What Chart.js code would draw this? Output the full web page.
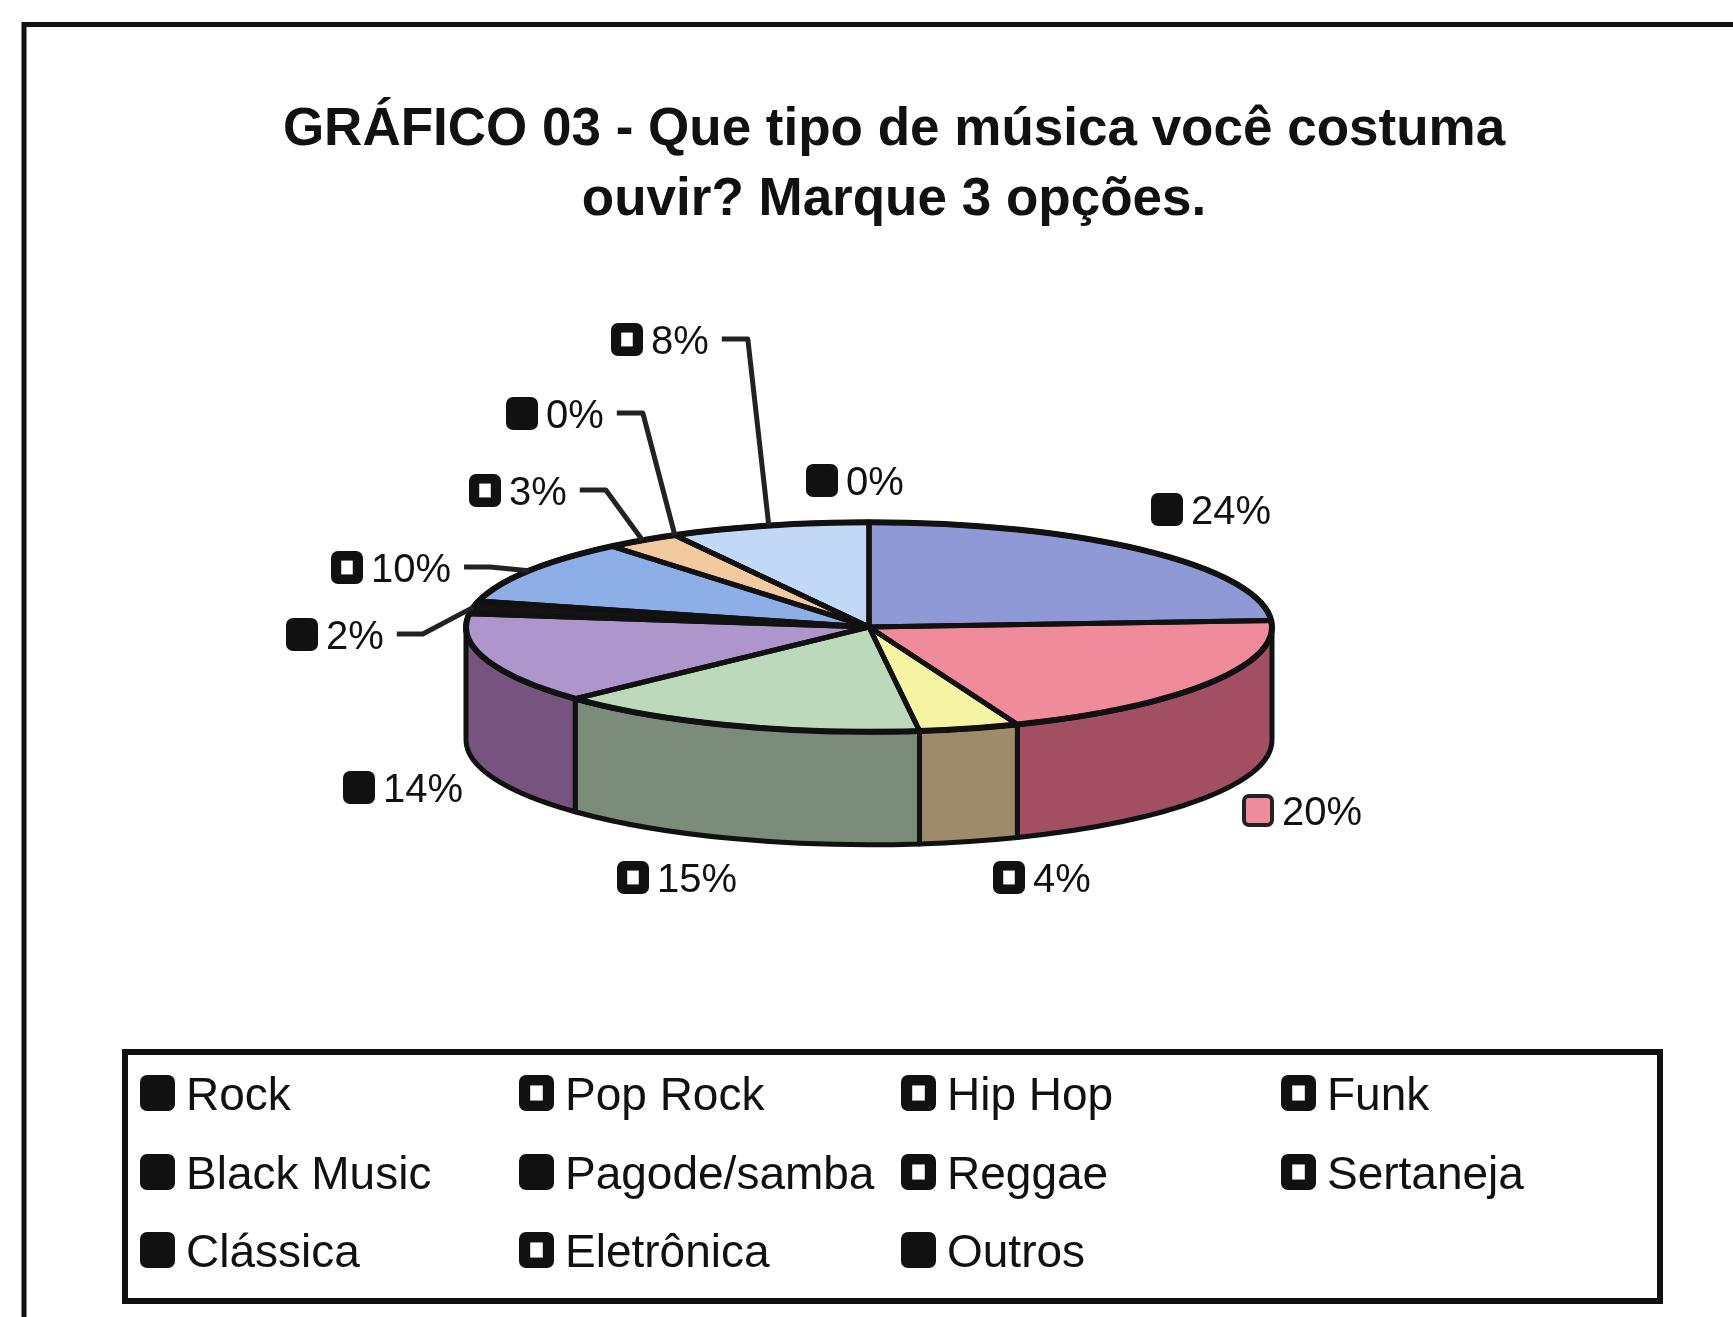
<!DOCTYPE html>
<html lang="pt-BR">
<head>
  <meta charset="UTF-8">
  <title>Gráfico 03 - Que tipo de música você costuma ouvir?</title>
  <script src="https://cdn.jsdelivr.net/npm/chart.js"></script>
  <style>
    body {
      margin: 0;
      background-color: #fff;
    }

    canvas {
      display: block;
    }
  </style>
</head>
<body>
  <canvas id="grafico" width="1733" height="1317"></canvas>

  <script>
    const generos = ['Rock', 'Pop Rock', 'Hip Hop', 'Funk', 'Black Music', 'Pagode/samba',
                     'Reggae', 'Sertaneja', 'Clássica', 'Eletrônica', 'Outros'];
    const percentuais = [24, 20, 4, 15, 14, 2, 10, 3, 0, 8, 0];
    const titulo = ['GRÁFICO 03 - Que tipo de música você costuma', 'ouvir? Marque 3 opções.'];

    // cores do topo e da lateral de cada fatia
    const corTopo = ['#8f99d5', '#f08b9b', '#f6f3a2', '#bcd9bc', '#ae96cc', '#141414',
                     '#8eaee8', '#f3caa0', '#808080', '#c1d9f6', '#606060'];
    const corLado = ['#5c6496', '#a24f64', '#9e8b69', '#7b8c7b', '#77547f', '#0c0c0c',
                     '#5a76a6', '#a88a6a', '#505050', '#8298b0', '#404040'];

    // chaves: 'cheia' = quadrado preto, 'vazada' = quadrado com miolo branco, ou uma cor
    const chaveLegenda = ['cheia', 'vazada', 'vazada', 'vazada', 'cheia', 'cheia',
                          'vazada', 'vazada', 'cheia', 'vazada', 'cheia'];
    const chaveRotulo = ['cheia', '#ee8c9c', 'vazada', 'vazada', 'cheia', 'cheia',
                         'vazada', 'vazada', 'cheia', 'vazada', 'cheia'];

    // rótulos de porcentagem: [x da chave, y central, usa linha de chamada]
    const posRotulo = [
      [1151, 509, false],
      [1242, 810, false],
      [993, 877, false],
      [617, 877, false],
      [343, 787, false],
      [286, 634, true],
      [331, 567, true],
      [469, 490, true],
      [506, 413, true],
      [611, 339, true],
      [806, 480, false]
    ];

    const ACHATAMENTO = 0.26;   // altura / largura da elipse do topo
    const ESPESSURA = 113;      // altura da lateral da pizza
    const FONTE = '"Liberation Sans", Arial, sans-serif';

    function geometria(chart) {
      const arcos = chart.getDatasetMeta(0).data;
      const a0 = arcos[0];
      return { arcos, cx: a0.x, cy: a0.y, rx: a0.outerRadius, ry: a0.outerRadius * ACHATAMENTO };
    }

    function retArredondado(ctx, x, y, w, h, r) {
      ctx.beginPath();
      ctx.moveTo(x + r, y);
      ctx.arcTo(x + w, y, x + w, y + h, r);
      ctx.arcTo(x + w, y + h, x, y + h, r);
      ctx.arcTo(x, y + h, x, y, r);
      ctx.arcTo(x, y, x + w, y, r);
      ctx.closePath();
    }

    function desenhaChave(ctx, x, y, w, h, tipo) {
      if (tipo === 'cheia' || tipo === 'vazada') {
        retArredondado(ctx, x, y, w, h, 7);
        ctx.fillStyle = '#111';
        ctx.fill();
        if (tipo === 'vazada') {
          const iw = w * 0.36, ih = h * 0.42;
          ctx.fillStyle = '#fff';
          ctx.fillRect(x + (w - iw) / 2, y + (h - ih) / 2, iw, ih);
        }
      } else {
        retArredondado(ctx, x + 2, y + 2, w - 4, h - 4, 5);
        ctx.fillStyle = tipo;
        ctx.fill();
        ctx.lineWidth = 4;
        ctx.strokeStyle = '#222';
        ctx.stroke();
      }
    }

    // lateral em 3D e topo achatado da pizza
    const pizza3d = {
      id: 'pizza3d',
      beforeDatasetsDraw(chart) {
        const ctx = chart.ctx;
        const { arcos, cx, cy, rx, ry } = geometria(chart);
        ctx.save();
        ctx.lineWidth = 5;
        ctx.strokeStyle = '#111';
        ctx.lineJoin = 'round';
        arcos.forEach((arco, i) => {
          // só a parte da frente (ângulos entre 0 e PI) aparece
          const a1 = Math.max(arco.startAngle, 0);
          const a2 = Math.min(arco.endAngle, Math.PI);
          if (a2 <= a1) return;
          ctx.beginPath();
          ctx.ellipse(cx, cy, rx, ry, 0, a1, a2);
          ctx.lineTo(cx + rx * Math.cos(a2), cy + ESPESSURA + ry * Math.sin(a2));
          ctx.ellipse(cx, cy + ESPESSURA, rx, ry, 0, a2, a1, true);
          ctx.closePath();
          ctx.fillStyle = corLado[i];
          ctx.fill();
          ctx.stroke();
        });
        ctx.restore();

        ctx.save();
        ctx.translate(cx, cy);
        ctx.scale(1, ACHATAMENTO);
        ctx.translate(-cx, -cy);
      },
      afterDatasetsDraw(chart) {
        const ctx = chart.ctx;
        ctx.restore();
        const { arcos, cx, cy, rx, ry } = geometria(chart);
        ctx.save();
        ctx.strokeStyle = '#111';
        ctx.lineJoin = 'round';
        ctx.lineWidth = 5;
        arcos.forEach(arco => {
          ctx.beginPath();
          ctx.moveTo(cx, cy);
          ctx.ellipse(cx, cy, rx, ry, 0, arco.startAngle, arco.endAngle);
          ctx.closePath();
          ctx.stroke();
        });
        ctx.lineWidth = 6;
        ctx.beginPath();
        ctx.ellipse(cx, cy, rx, ry, 0, 0, Math.PI * 2);
        ctx.stroke();
        ctx.restore();
      }
    };

    // porcentagens com chave e linhas de chamada
    const rotulos = {
      id: 'rotulos',
      afterDraw(chart) {
        const ctx = chart.ctx;
        const { arcos, cx, cy, rx, ry } = geometria(chart);
        ctx.save();
        ctx.font = '40px ' + FONTE;
        ctx.textBaseline = 'alphabetic';
        ctx.textAlign = 'left';
        arcos.forEach((arco, i) => {
          const [x, y, chamada] = posRotulo[i];
          desenhaChave(ctx, x, y - 16, 32, 33, chaveRotulo[i]);
          const texto = percentuais[i] + '%';
          const tx = x + 40;
          ctx.fillStyle = '#111';
          ctx.fillText(texto, tx, y + 14.5);
          if (chamada) {
            const meio = (arco.startAngle + arco.endAngle) / 2;
            const x0 = tx + ctx.measureText(texto).width + 13;
            ctx.beginPath();
            ctx.moveTo(x0, y);
            ctx.lineTo(x0 + 26, y);
            ctx.lineTo(cx + rx * Math.cos(meio), cy + ry * Math.sin(meio));
            ctx.lineWidth = 5;
            ctx.lineJoin = 'round';
            ctx.strokeStyle = '#222';
            ctx.stroke();
          }
        });
        ctx.restore();
      }
    };

    // moldura, título e legenda em grade
    const moldura = {
      id: 'moldura',
      beforeDraw(chart) {
        const ctx = chart.ctx;
        ctx.save();
        ctx.fillStyle = '#fff';
        ctx.fillRect(0, 0, chart.width, chart.height);
        ctx.restore();
      },
      afterDraw(chart) {
        const ctx = chart.ctx;
        ctx.save();
        ctx.strokeStyle = '#111';
        ctx.lineWidth = 5;
        ctx.beginPath();
        ctx.moveTo(24, chart.height);
        ctx.lineTo(24, 24.5);
        ctx.lineTo(chart.width, 24.5);
        ctx.stroke();

        ctx.fillStyle = '#111';
        ctx.font = 'bold 53px ' + FONTE;
        ctx.textAlign = 'center';
        ctx.textBaseline = 'alphabetic';
        titulo.forEach((linha, i) => ctx.fillText(linha, 894, 145 + i * 70));

        ctx.lineWidth = 6;
        ctx.strokeRect(125, 1052, 1535, 249);

        const colunas = [140, 519, 901, 1281];
        const linhas = [1093, 1172, 1250];
        ctx.font = '46px ' + FONTE;
        ctx.textAlign = 'left';
        generos.forEach((nome, i) => {
          const x = colunas[i % 4];
          const y = linhas[Math.floor(i / 4)];
          desenhaChave(ctx, x, y - 18, 35, 36, chaveLegenda[i]);
          ctx.fillStyle = '#111';
          ctx.fillText(nome, x + 46, y + 16.5);
        });
        ctx.restore();
      }
    };

    const ctx = document.getElementById('grafico').getContext('2d');
    new Chart(ctx, {
      type: 'pie',
      data: {
        labels: generos,
        datasets: [{
          data: percentuais,
          backgroundColor: corTopo,
          borderWidth: 0,
          radius: 403
        }]
      },
      options: {
        responsive: false,
        animation: false,
        events: [],
        layout: {
          padding: { left: 468, right: 463, top: 230, bottom: 293 }
        },
        plugins: {
          legend: { display: false },
          title: { display: false },
          tooltip: { enabled: false }
        }
      },
      plugins: [moldura, pizza3d, rotulos]
    });
  </script>
</body>
</html>
